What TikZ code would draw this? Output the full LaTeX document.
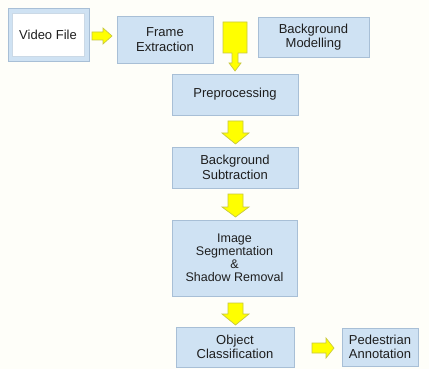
\documentclass[tikz,border=0pt]{standalone}
\usepackage{fontspec}
\setmainfont{Liberation Sans}
\definecolor{boxfill}{HTML}{CFE2F3}
\definecolor{boxline}{HTML}{A8BFD6}
\definecolor{yel}{HTML}{FFFF00}
\definecolor{yelline}{HTML}{C8C840}
\definecolor{txt}{HTML}{1E1E1E}
\definecolor{bg}{HTML}{FEFEF9}
\tikzset{
  box/.style={draw=boxline, fill=boxfill, line width=0.8pt, inner sep=0pt, align=center,
    text=txt, font=\fontsize{13}{14.5}\selectfont},
  yarrow/.style={draw=yelline, fill=yel, line width=0.7pt, line join=miter},
}
\begin{document}
\begin{tikzpicture}[x=1pt,y=-1pt]
\fill[bg] (0,0) rectangle (429,369);
\useasboundingbox (0,0) rectangle (429,369);
% nodes
\node[box, minimum width=81, minimum height=53] (videoout) at (48.5,34.5) {};
\node[draw=boxline!60, fill=white, line width=0.8pt, minimum width=72, minimum height=43, inner sep=0pt,
  text=txt, font=\fontsize{13}{14.5}\selectfont] (video) at (48,34.5) {Video File};
\node[box, minimum width=96, minimum height=47] (frame) at (165,39.5) {Frame\\Extraction};
\node[box, minimum width=111, minimum height=40] (bgmod) at (313.5,37) {Background\\Modelling};
\node[box, minimum width=126, minimum height=41] (pre) at (235,94.5) {Preprocessing};
\node[box, minimum width=126, minimum height=41] (bgsub) at (235,167.5) {Background\\Subtraction};
\node[box, minimum width=125, minimum height=76, font=\fontsize{12.5}{13}\selectfont] (seg) at (234.5,258) {Image\\Segmentation\\\&\\Shadow Removal};
\node[box, minimum width=118, minimum height=40] (obj) at (235,347) {Object\\Classification};
\node[box, minimum width=76, minimum height=38] (ped) at (380,347) {Pedestrian\\Annotation};
% right arrow video -> frame
\draw[yarrow] (92,32) -- (103,32) -- (103,28) -- (112,36) -- (103,44) -- (103,40) -- (92,40) -- cycle;
% big arrow frame/bg -> preprocessing
\draw[yarrow] (223,22) -- (247,22) -- (247,53) -- (238,53) -- (238,63) -- (241,63) -- (235,71)
  -- (229,63) -- (232,63) -- (232,53) -- (223,53) -- cycle;
% down arrows
\draw[yarrow] (228,121) -- (243,121) -- (243,133) -- (249,133) -- (235.5,144) -- (222,133) -- (228,133) -- cycle;
\draw[yarrow] (228,194) -- (243,194) -- (243,207) -- (249,207) -- (235.5,217) -- (222,207) -- (228,207) -- cycle;
\draw[yarrow] (228,303) -- (243,303) -- (243,314) -- (249,314) -- (235.5,325) -- (222,314) -- (228,314) -- cycle;
% right arrow obj -> ped
\draw[yarrow] (312,343) -- (326,343) -- (326,338) -- (334,348) -- (326,358) -- (326,353) -- (312,353) -- cycle;
\end{tikzpicture}
\end{document}
